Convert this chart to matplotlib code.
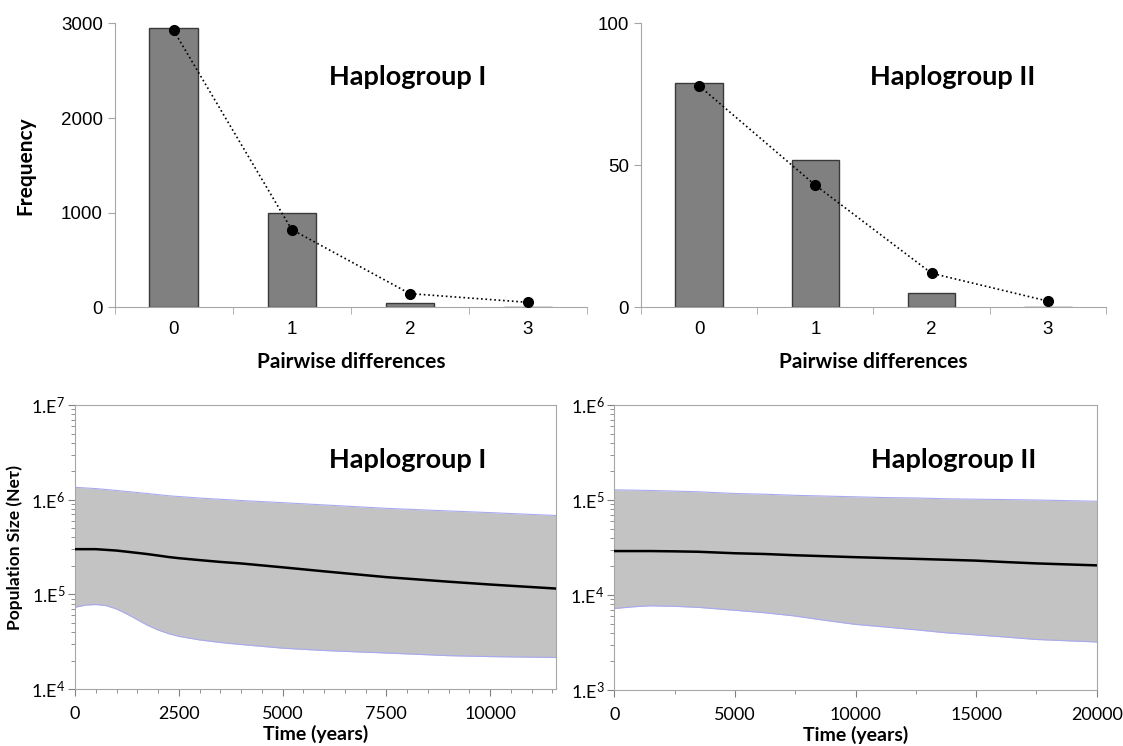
"""
Mismatch distributions (top) and Bayesian skyline plots (bottom)
for haplogroups I and II.
"""

import numpy as np
import matplotlib.pyplot as plt
from matplotlib.ticker import FixedLocator, LogLocator, MultipleLocator, FuncFormatter


# ---------------------------------------------------------------------
# Data
# ---------------------------------------------------------------------

# Mismatch distributions: observed (bars) and expected (dots).
pairwise = [0, 1, 2, 3]
hap1_observed = [2955, 1000, 50, 0]
hap1_expected = [2925, 822, 145, 53]
hap2_observed = [79, 52, 5, 0]
hap2_expected = [78, 43, 12, 2.2]

# Skyline plot, haplogroup I.
hap1_time = [0, 250, 500, 750, 1000, 1250, 1500, 1750, 2000, 2250,
             2500, 3000, 3500, 4000, 5000, 6000, 7500, 9000, 10000, 11600]
hap1_upper = [1.35e6, 1.33e6, 1.31e6, 1.28e6, 1.25e6, 1.22e6, 1.19e6, 1.16e6, 1.13e6, 1.1e6,
              1.08e6, 1.04e6, 1.01e6, 9.8e5, 9.3e5, 8.8e5, 8.1e5, 7.6e5, 7.3e5, 6.8e5]
hap1_median = [3.0e5, 3.0e5, 3.0e5, 2.95e5, 2.9e5, 2.82e5, 2.74e5, 2.66e5, 2.57e5, 2.48e5,
               2.41e5, 2.3e5, 2.2e5, 2.12e5, 1.93e5, 1.75e5, 1.52e5, 1.36e5, 1.27e5, 1.15e5]
hap1_lower = [7.3e4, 7.7e4, 7.8e4, 7.6e4, 7.0e4, 6.2e4, 5.4e4, 4.7e4, 4.2e4, 3.85e4,
              3.6e4, 3.3e4, 3.1e4, 2.95e4, 2.7e4, 2.55e4, 2.4e4, 2.25e4, 2.2e4, 2.15e4]

# Skyline plot, haplogroup II.
hap2_time = [0, 750, 1500, 2500, 3500, 5000, 6250, 7500, 8750, 10000,
             11250, 12500, 13750, 15000, 16250, 17500, 20000]
hap2_upper = [1.28e5, 1.27e5, 1.26e5, 1.24e5, 1.22e5, 1.17e5, 1.15e5, 1.12e5, 1.1e5, 1.08e5,
              1.06e5, 1.05e5, 1.03e5, 1.02e5, 1.01e5, 1.0e5, 9.7e4]
hap2_median = [2.9e4, 2.9e4, 2.9e4, 2.88e4, 2.85e4, 2.75e4, 2.7e4, 2.62e4, 2.56e4, 2.5e4,
               2.45e4, 2.4e4, 2.35e4, 2.3e4, 2.22e4, 2.15e4, 2.05e4]
hap2_lower = [7.2e3, 7.5e3, 7.7e3, 7.6e3, 7.4e3, 6.9e3, 6.5e3, 6.0e3, 5.4e3, 4.9e3,
              4.6e3, 4.3e3, 4.0e3, 3.8e3, 3.6e3, 3.4e3, 3.2e3]


# ---------------------------------------------------------------------
# Style
# ---------------------------------------------------------------------

plt.rcParams["mathtext.fontset"] = "custom"
plt.rcParams["mathtext.rm"] = "Lato"
plt.rcParams["mathtext.it"] = "Lato"

LABEL_FONT = ["Lato", "DejaVu Sans"]
SPINE = "#a6a6a6"

fig = plt.figure(figsize=(11.23, 7.46), dpi=100)

ax1 = fig.add_axes([0.102, 0.588, 0.4207, 0.3807])
ax2 = fig.add_axes([0.5708, 0.588, 0.414, 0.3807])
ax3 = fig.add_axes([0.0668, 0.0764, 0.4287, 0.3807])
ax4 = fig.add_axes([0.547, 0.0751, 0.4296, 0.382])


# ---------------------------------------------------------------------
# Mismatch distributions
# ---------------------------------------------------------------------

def mismatch(ax, observed, expected, ymax, step, title, tx):
    ax.bar(pairwise, observed, width=0.41, color="#808080",
           edgecolor="#3a3a3a", linewidth=1.0, zorder=2)
    ax.plot(pairwise, expected, linestyle=":", color="black", linewidth=1.2,
            marker="o", markersize=7, zorder=3)

    ax.set_xlim(-0.5, 3.5)
    ax.set_ylim(0, ymax)

    ax.set_xticks(pairwise)
    ax.xaxis.set_minor_locator(FixedLocator([-0.5, 0.5, 1.5, 2.5, 3.5]))
    ax.tick_params(axis="x", which="major", length=0, pad=10, labelsize=13.5)
    ax.tick_params(axis="x", which="minor", length=5, color=SPINE, direction="out")
    ax.yaxis.set_major_locator(MultipleLocator(step))
    ax.tick_params(axis="y", length=5, color=SPINE, labelsize=13.5)
    for lab in ax.get_xticklabels() + ax.get_yticklabels():
        lab.set_fontfamily("Liberation Sans")

    for side in ["top", "right"]:
        ax.spines[side].set_visible(False)
    for side in ["left", "bottom"]:
        ax.spines[side].set_color(SPINE)

    ax.set_xlabel("Pairwise differences", fontsize=15, fontweight="bold",
                  family=LABEL_FONT, labelpad=10)
    ax.text(tx, 0.81, title, transform=ax.transAxes, ha="center",
            va="center", fontsize=19.5, fontweight="bold", family=LABEL_FONT)


mismatch(ax1, hap1_observed, hap1_expected, 3000, 1000, "Haplogroup I", 0.621)
mismatch(ax2, hap2_observed, hap2_expected, 100, 50, "Haplogroup II", 0.671)
ax1.set_ylabel("Frequency", fontsize=15, fontweight="bold",
               family=LABEL_FONT, labelpad=18)


# ---------------------------------------------------------------------
# Skyline plots
# ---------------------------------------------------------------------

def power_label(v, pos):
    return r"1.E$^{%d}$" % int(round(np.log10(v)))


def skyline(ax, t, lower, median, upper, xmax, ylim, xstep, minor, title, tx):
    ax.fill_between(t, lower, upper, color="#c3c3c3", linewidth=0, zorder=1)
    ax.plot(t, upper, color="#a9a9f0", linewidth=0.8, zorder=2)
    ax.plot(t, lower, color="#a9a9f0", linewidth=0.8, zorder=2)
    ax.plot(t, median, color="black", linewidth=1.8, zorder=3)

    ax.set_yscale("log")
    ax.set_xlim(0, xmax)
    ax.set_ylim(*ylim)

    ax.xaxis.set_major_locator(MultipleLocator(xstep))
    ax.xaxis.set_minor_locator(MultipleLocator(minor))
    ax.yaxis.set_major_locator(LogLocator(base=10))
    ax.yaxis.set_minor_locator(LogLocator(base=10, subs=np.arange(2, 10)))
    ax.yaxis.set_major_formatter(FuncFormatter(power_label))
    ax.yaxis.set_minor_formatter(FuncFormatter(lambda v, p: ""))

    ax.tick_params(axis="both", which="major", length=5, color="#808080",
                   labelsize=13)
    ax.tick_params(axis="both", which="minor", length=3, color="#808080")
    ax.tick_params(axis="x", pad=7)
    ax.tick_params(axis="y", pad=2)
    for lab in ax.get_xticklabels() + ax.get_yticklabels():
        lab.set_fontfamily(LABEL_FONT)

    for side in ax.spines:
        ax.spines[side].set_color(SPINE)

    ax.set_xlabel("Time (years)", fontsize=14, fontweight="bold",
                  family=LABEL_FONT, labelpad=2)
    ax.text(tx, 0.807, title, transform=ax.transAxes, ha="center",
            va="center", fontsize=19.5, fontweight="bold", family=LABEL_FONT)


skyline(ax3, hap1_time, hap1_lower, hap1_median, hap1_upper,
        11600, (1e4, 1e7), 2500, 500, "Haplogroup I", 0.692)
skyline(ax4, hap2_time, hap2_lower, hap2_median, hap2_upper,
        20000, (1e3, 1e6), 5000, 2500, "Haplogroup II", 0.704)
ax3.set_ylabel("Population Size (Neτ)", fontsize=12.5, fontweight="bold",
               family=LABEL_FONT, labelpad=6)

fig.savefig("out.png", dpi=100)
